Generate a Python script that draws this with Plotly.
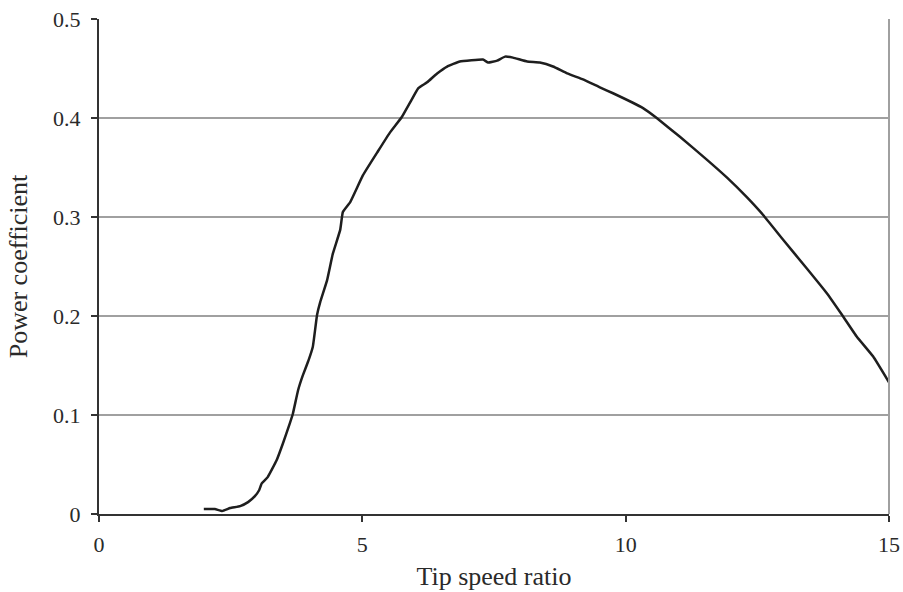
import plotly.graph_objects as go

tip_speed_ratio = [1.99, 2.2, 2.34, 2.49, 2.68, 2.83, 2.96, 3.04, 3.09, 3.2, 3.37, 3.49, 3.62, 3.68,
                   3.78, 3.87, 3.97, 4.06, 4.14, 4.20, 4.33, 4.44, 4.58, 4.63, 4.77, 5.01, 5.28,
                   5.52, 5.75, 5.90, 6.06, 6.23, 6.42, 6.61, 6.85, 7.29, 7.39, 7.56, 7.71, 7.86,
                   8.13, 8.37, 8.62, 8.89, 9.19, 9.51, 9.76, 10.33, 10.59, 11.03, 11.54, 11.92,
                   12.30, 12.61, 12.99, 13.44, 13.82, 14.11, 14.39, 14.70, 15.0]
power_coefficient = [0.005, 0.005, 0.003, 0.006, 0.008, 0.012, 0.018, 0.024, 0.031, 0.037, 0.054,
                     0.071, 0.091, 0.101, 0.125, 0.140, 0.154, 0.169, 0.201, 0.214, 0.236, 0.263,
                     0.287, 0.305, 0.315, 0.342, 0.365, 0.385, 0.401, 0.415, 0.430, 0.436, 0.445,
                     0.452, 0.457, 0.459, 0.456, 0.458, 0.462, 0.461, 0.457, 0.456, 0.452, 0.445,
                     0.439, 0.431, 0.425, 0.410, 0.400, 0.381, 0.358, 0.340, 0.320, 0.302, 0.277,
                     0.248, 0.223, 0.201, 0.179, 0.159, 0.133]

x_ticks = [0, 5, 10, 15]
y_ticks = [0, 0.1, 0.2, 0.3, 0.4, 0.5]
y_tick_text = ["0", "0.1", "0.2", "0.3", "0.4", "0.5"]

font_family = "Liberation Serif, Times New Roman, serif"

fig = go.Figure()
fig.add_trace(go.Scatter(
    x=tip_speed_ratio, y=power_coefficient, mode="lines",
    line=dict(color="#1e1e1e", width=2.5, shape="spline", smoothing=0.3),
    showlegend=False, hoverinfo="skip"))

fig.update_layout(
    width=903, height=592,
    margin=dict(l=99, r=14, t=19, b=78),
    paper_bgcolor="white", plot_bgcolor="white",
    font=dict(family=font_family, size=22, color="#2a2a2a"),
    xaxis=dict(
        range=[0, 15], tickvals=x_ticks, ticktext=[str(v) for v in x_ticks],
        showgrid=False, zeroline=False, automargin=False,
        showline=True, linecolor="#333333", linewidth=2,
        ticks="outside", ticklen=6, tickwidth=2, tickcolor="#333333",
        ticklabelstandoff=4,
        title=dict(text="Tip speed ratio", standoff=10),
    ),
    yaxis=dict(
        range=[0, 0.5], tickvals=y_ticks, ticktext=y_tick_text,
        showgrid=True, gridcolor="#a0a0a0", gridwidth=1.5, zeroline=False, automargin=False,
        showline=True, linecolor="#333333", linewidth=2,
        ticks="outside", ticklen=6, tickwidth=2, tickcolor="#333333",
        ticklabelstandoff=6,
        title=dict(text="Power coefficient", standoff=18),
    ),
)
fig.add_shape(type="line", xref="paper", yref="paper", x0=1, x1=1, y0=0, y1=1,
              line=dict(color="#a0a0a0", width=2))

fig.write_html("out.html", config={"displayModeBar": False},
               post_script="document.body.style.margin='0';document.body.style.overflow='hidden';")
